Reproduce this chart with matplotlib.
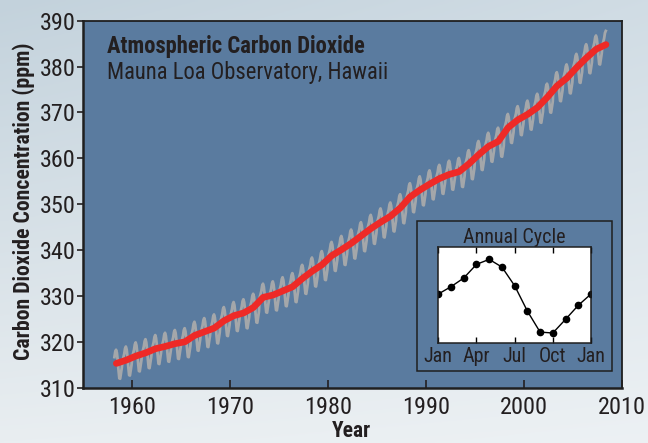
import numpy as np
import matplotlib
matplotlib.use('Agg')
import matplotlib.pyplot as plt
from matplotlib.patches import Rectangle
from matplotlib.colors import to_rgb

plt.rcParams['font.family'] = ['Roboto Condensed', 'DejaVu Sans']

# annual mean CO2 at Mauna Loa (ppm)
years = np.arange(1958, 2009)
co2_trend = [315.3, 316.0, 316.9, 317.6, 318.5, 319.0, 319.6, 320.0, 321.4, 322.2,
             323.0, 324.6, 325.7, 326.3, 327.5, 329.7, 330.2, 331.1, 332.0, 333.8,
             335.4, 336.8, 338.8, 340.1, 341.5, 343.1, 344.7, 346.1, 347.4, 349.2,
             351.6, 353.1, 354.4, 355.6, 356.5, 357.1, 358.8, 360.8, 362.6, 363.7,
             366.7, 368.4, 369.6, 371.1, 373.3, 375.8, 377.5, 379.8, 381.9, 383.8,
             384.8]

# annual cycle (deviation from the yearly mean, ppm), Jan ... Jan
cycle_labels = ['Jan', 'Apr', 'Jul', 'Oct', 'Jan']
cycle = [0.0, 0.63, 1.37, 2.54, 2.97, 2.31, 0.71, -1.46, -3.26, -3.34, -2.17, -0.97, 0.0]

# monthly series = yearly mean + month offset (Mar 1958 .. May 2008)
mx, my = [], []
for i, yr in enumerate(years):
    for m in range(12):
        if (yr == 1958 and m < 2) or (yr == 2008 and m > 4):
            continue
        mx.append(yr + (m + 0.5) / 12)
        my.append(co2_trend[i] + cycle[m])

fig = plt.figure(figsize=(6.48, 4.43), dpi=100)

# pale sky background
bg = fig.add_axes([0, 0, 1, 1], zorder=-10)
bg.axis('off')
top = np.array(to_rgb('#c3d2dc'))
bot = np.array(to_rgb('#e9eef1'))
t = np.linspace(0, 1, 200)[:, None, None]
s = np.linspace(0, 1, 200)[None, :, None]
img = top * (1 - t) + bot * t
img = img * (1 - 0.25 * s) + np.array([0.97, 0.98, 0.99]) * 0.25 * s
bg.imshow(img, aspect='auto', extent=[0, 1, 0, 1])
bg.set_xlim(0, 1)
bg.set_ylim(0, 1)

ax = fig.add_axes([0.1281, 0.1248, 0.8313, 0.8284])
ax.set_facecolor('#5a7b9f')
ax.plot(mx, my, color='#a4a7aa', lw=2.0, zorder=2)
ax.plot(years + 0.4, co2_trend, color='#ee2a27', lw=4.8, zorder=3,
        solid_capstyle='round', solid_joinstyle='round')

ax.set_xlim(1955, 2010)
ax.set_ylim(310, 390)
ax.set_xticks(np.arange(1960, 2011, 10))
ax.set_yticks(np.arange(310, 391, 10))
ax.tick_params(axis='x', direction='in', length=6, width=1.2, pad=6,
               labelsize=17.5, labelcolor='#231f20', colors='#231f20')
ax.tick_params(axis='y', direction='out', length=4, width=1.2, pad=1,
               labelsize=17.5, labelcolor='#231f20', colors='#231f20')
for sp in ax.spines.values():
    sp.set_color('#1f1f1f')
    sp.set_linewidth(1.3)
ax.spines['left'].set_linewidth(1.8)
ax.spines['bottom'].set_linewidth(1.8)

fig.text(0.165, 0.881, 'Atmospheric Carbon Dioxide', fontsize=16.3,
         fontweight='bold', color='#231f20', va='baseline')
fig.text(0.165, 0.821, 'Mauna Loa Observatory, Hawaii', fontsize=16.3,
         color='#231f20', va='baseline')
fig.text(0.036, 0.545, 'Carbon Dioxide Concentration (ppm)', fontsize=15.7,
         fontweight='bold', color='#231f20', rotation=90, ha='center', va='center')
fig.text(0.543, 0.003, 'Year', fontsize=15.5, fontweight='bold',
         color='#231f20', ha='center', va='bottom')

# inset frame
ax.add_patch(Rectangle((0.6206, 0.0463), 0.362, 0.4079, transform=ax.transAxes,
                       fill=False, edgecolor='#1f1f1f', lw=1.1, zorder=5))

ins = fig.add_axes([0.6764, 0.2264, 0.2356, 0.2153])
ins.set_facecolor('white')
ins.plot(np.arange(13), cycle, color='black', lw=1.0, marker='o', ms=4.5)
ins.set_xlim(0, 12)
ins.set_ylim(-4.17, 4.0)
ins.set_xticks([0, 3, 6, 9, 12])
ins.set_xticklabels(cycle_labels)
ins.set_yticks([])
ins.tick_params(axis='x', direction='in', top=True, length=4, width=1,
                labelsize=14.5, labelcolor='#231f20', pad=3)
for sp in ins.spines.values():
    sp.set_color('#1f1f1f')
    sp.set_linewidth(1.1)
ins.set_title('Annual Cycle', fontsize=14.5, color='#231f20', pad=3)

fig.savefig('out.png', dpi=100)
